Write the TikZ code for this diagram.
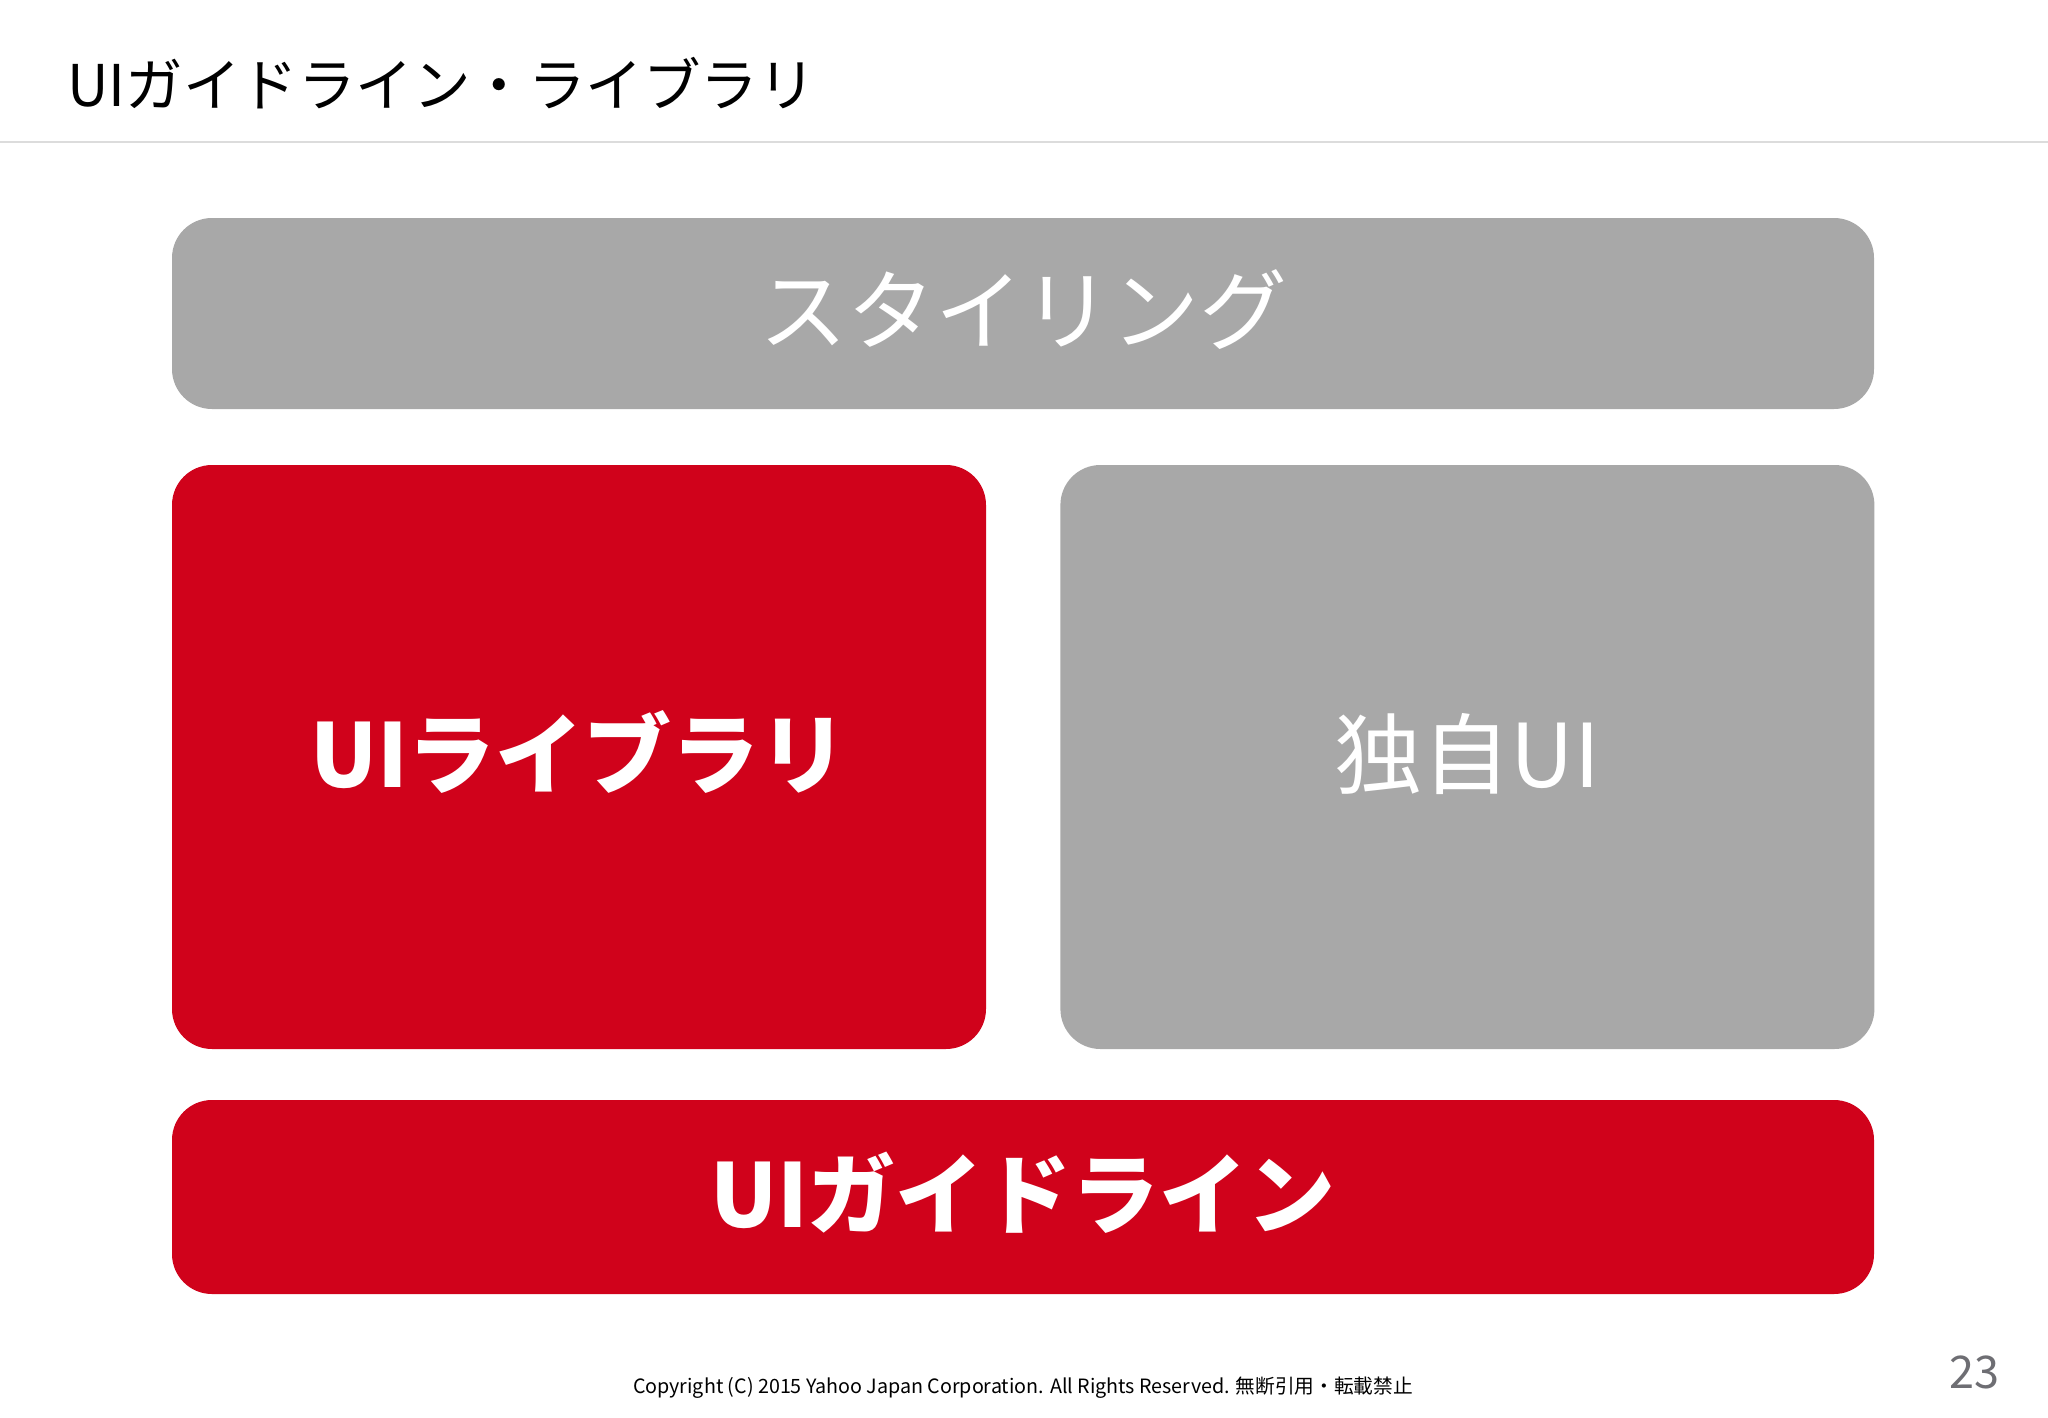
\documentclass[tikz,border=0pt]{standalone}
\usepackage{fontspec}
\setmainfont{Noto Sans CJK JP}
\usetikzlibrary{positioning}
\definecolor{yred}{HTML}{D0021B}
\definecolor{ygray}{HTML}{A8A8A8}
\definecolor{yline}{HTML}{DCDCDC}
\definecolor{ynum}{HTML}{6E6E73}
\tikzset{
  panel/.style={rectangle,rounded corners=40pt,inner sep=0pt,text=white,text height=78pt,text depth=18pt},
  redpanel/.style={panel,fill=yred,font=\fontsize{88}{92}\selectfont\bfseries},
  graypanel/.style={panel,fill=ygray,font=\fontsize{88}{92}\selectfont},
}

\begin{document}
\begin{tikzpicture}[x=1pt,y=-1pt]
\useasboundingbox[fill=white] (0,0) rectangle (2048,1418);
\node[anchor=west,font=\fontsize{57.5}{60}\selectfont] (title) at (64,83) {UIガイドライン・ライブラリ};
\draw[yline,line width=1.5pt] (0,142) -- (2048,142);

\node[graypanel,minimum width=1702pt,minimum height=191pt] (styling) at (1023,313.5) {スタイリング};
\node[redpanel,minimum width=814pt,minimum height=584pt] (uilib) at (579,757) {UIライブラリ};
\node[graypanel,minimum width=814pt,minimum height=584pt,right=74pt of uilib] (own) {独自UI};
\node[redpanel,minimum width=1702pt,minimum height=194pt] (guide) at (1023,1197) {UIガイドライン};

\node[font=\fontsize{19.7}{22}\selectfont] (copy) at (1023,1388) {Copyright (C) 2015 Yahoo Japan Corporation. All Rights Reserved. 無断引用・転載禁止};
\node[font=\fontsize{45}{48}\selectfont,text=ynum] (page) at (1974,1372) {23};
\end{tikzpicture}
\end{document}
